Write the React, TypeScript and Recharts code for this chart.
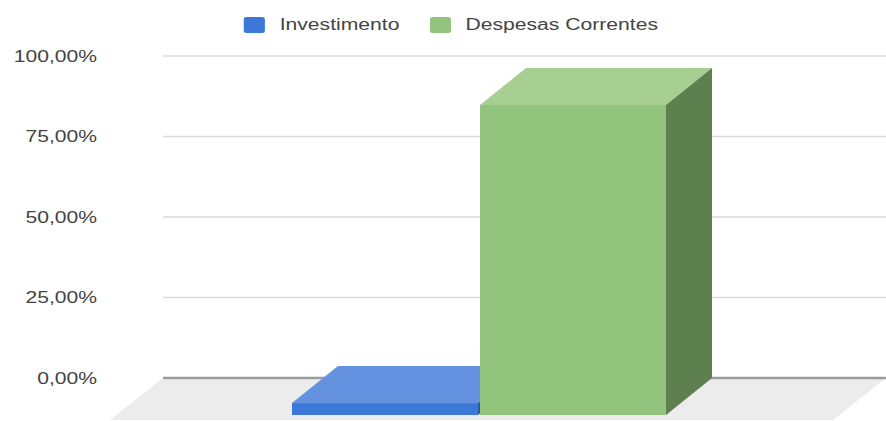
import { Bar, BarChart, CartesianGrid, Legend, XAxis, YAxis } from "recharts";

const categories = ["Total"];
const investimento = [3.7];
const despesasCorrentes = [96.3];
const seriesNames = ["Investimento", "Despesas Correntes"];
const yTicks = [0, 25, 50, 75, 100];

const data = categories.map((name, i) => ({
  name,
  investimento: investimento[i],
  despesas: despesasCorrentes[i],
}));

const FONT = '"Liberation Sans", Arial, sans-serif';
const STRETCH = 1.32; // the source image is stretched horizontally
const DEPTH_X = 46;
const DEPTH_Y = 37;

const blue = { front: "#3c78d8", top: "#6592e0", side: "#2b589f" };
const green = { front: "#93c47d", top: "#a8cf92", side: "#5e7f4e" };

function Bar3D(props: any) {
  const { x, y, width, height, colors } = props;
  if (width == null || height == null) return null;
  const fx = x - DEPTH_X;
  const fy = y + DEPTH_Y;
  return (
    <g>
      <polygon points={`${fx},${fy} ${x},${y} ${x + width},${y} ${fx + width},${fy}`} fill={colors.top} />
      <polygon
        points={`${fx + width},${fy} ${x + width},${y} ${x + width},${y + height} ${fx + width},${fy + height}`}
        fill={colors.side}
      />
      <rect x={fx} y={fy} width={width} height={height} fill={colors.front} />
    </g>
  );
}

function GridLine(props: any) {
  const { x1, x2, y1, y, height } = props;
  const isFloor = Math.abs(y1 - (y + height)) < 1;
  if (!isFloor) {
    return <line x1={x1} x2={x2} y1={y1} y2={y1} stroke="#dadada" strokeWidth={1.5} />;
  }
  return (
    <g>
      <polygon
        points={`${x1},${y1} ${x2},${y1} ${x2 - 53},${y1 + 42} ${x1 - 53},${y1 + 42}`}
        fill="#ececec"
      />
      <line x1={x1} x2={x2} y1={y1} y2={y1} stroke="#9c9c9c" strokeWidth={2.5} />
    </g>
  );
}

function YTick(props: any) {
  const { y, payload } = props;
  const label = `${Number(payload.value).toFixed(2).replace(".", ",")}%`;
  return (
    <g transform={`translate(97 ${y}) scale(${STRETCH} 1)`}>
      <text x={0} y={0} dy={5.5} textAnchor="end" fill="#444" fontSize={16} fontFamily={FONT}>
        {label}
      </text>
    </g>
  );
}

function LegendContent(props: any) {
  const items = [...(props.payload || [])].sort(
    (a: any, b: any) => seriesNames.indexOf(a.value) - seriesNames.indexOf(b.value)
  );
  return (
    <div
      style={{
        display: "flex",
        justifyContent: "center",
        alignItems: "center",
        transform: `translateX(8px) scaleX(${STRETCH})`,
        fontFamily: FONT,
        fontSize: 16,
        color: "#444",
      }}
    >
      {items.map((item: any, i: number) => (
        <div key={item.value} style={{ display: "flex", alignItems: "center", marginLeft: i === 0 ? 0 : 23 }}>
          <span
            style={{
              display: "inline-block",
              width: 16,
              height: 16,
              borderRadius: 2,
              background: item.color,
              marginRight: 11,
            }}
          />
          <span>{item.value}</span>
        </div>
      ))}
    </div>
  );
}

export default function App() {
  return (
    <div style={{ position: "absolute", left: 0, top: 0, background: "#fff" }}>
      <BarChart
        width={886}
        height={421}
        data={data}
        margin={{ top: 56, right: 0, bottom: 43, left: 0 }}
        barSize={186}
        barGap={2}
      >
        <CartesianGrid vertical={false} horizontal={(p: any) => <GridLine {...p} />} />
        <XAxis dataKey="name" hide />
        <YAxis
          width={163}
          domain={[0, 100]}
          ticks={yTicks}
          axisLine={false}
          tickLine={false}
          tick={(p: any) => <YTick {...p} />}
        />
        <Legend
          verticalAlign="middle"
          align="center"
          layout="horizontal"
          content={(p: any) => <LegendContent {...p} />}
          wrapperStyle={{ top: 16 }}
        />
        <Bar
          dataKey="investimento"
          name={seriesNames[0]}
          fill={blue.front}
          isAnimationActive={false}
          shape={(p: any) => <Bar3D {...p} colors={blue} />}
        />
        <Bar
          dataKey="despesas"
          name={seriesNames[1]}
          fill={green.front}
          isAnimationActive={false}
          shape={(p: any) => <Bar3D {...p} colors={green} />}
        />
      </BarChart>
    </div>
  );
}
